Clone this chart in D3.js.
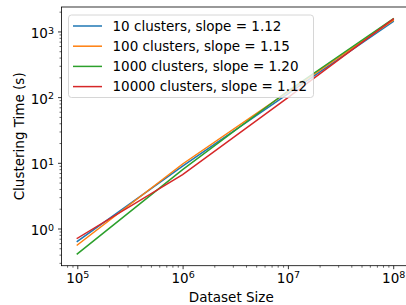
<!DOCTYPE html>
<html>
<head>
<meta charset="utf-8">
<script src="https://cdn.jsdelivr.net/npm/d3@7"></script>
<style>
    body { margin: 0; background: #fff; }
    svg { display: block; font-family: "DejaVu Sans", sans-serif; }
</style>
</head>
<body>
<svg id="chart" width="406" height="305"></svg>
<script>
// dataset sizes (x) and clustering times in seconds (y)
const datasetSizes = [1e5, 1e6, 1e7, 1e8];
const seriesNames = [
    '10 clusters, slope = 1.12',
    '100 clusters, slope = 1.15',
    '1000 clusters, slope = 1.20',
    '10000 clusters, slope = 1.12'
];
const times10 = [0.635, 8.9, 112, 1413];
const times100 = [0.56, 9.6, 120, 1475];
const times1000 = [0.41, 7.9, 124, 1560];
const times10000 = [0.71, 6.6, 98, 1540];
const xTickValues = [1e5, 1e6, 1e7, 1e8];
const yTickValues = [1e0, 1e1, 1e2, 1e3];

const colors = ['#1f77b4', '#ff7f0e', '#2ca02c', '#d62728'];
const series = [times10, times100, times1000, times10000].map((values, i) => ({
    name: seriesNames[i],
    color: colors[i],
    points: values.map((v, j) => ({ x: datasetSizes[j], y: v }))
}));

const svg = d3.select('#chart');
const plot = { left: 61.5, right: 409, top: 7, bottom: 265.7 };

// matplotlib-style 5% margins in log space
function paddedLogDomain(values) {
    const lo = Math.log10(d3.min(values));
    const hi = Math.log10(d3.max(values));
    const pad = (hi - lo) * 0.05;
    return [Math.pow(10, lo - pad), Math.pow(10, hi + pad)];
}

const x = d3.scaleLog()
    .domain(paddedLogDomain(datasetSizes))
    .range([plot.left, plot.right]);
const y = d3.scaleLog()
    .domain(paddedLogDomain(series.flatMap(s => s.points.map(p => p.y))))
    .range([plot.bottom, plot.top]);

// minor ticks: 2..9 in each decade inside the domain
function minorTicks(scale) {
    const [d0, d1] = scale.domain();
    const out = [];
    for (let e = Math.floor(Math.log10(d0)); e <= Math.ceil(Math.log10(d1)); e++) {
        for (let m = 2; m <= 9; m++) {
            const v = m * Math.pow(10, e);
            if (v >= d0 && v <= d1) out.push(v);
        }
    }
    return out;
}

const powerLabel = function (sel) {
    sel.each(function (d) {
        const t = d3.select(this);
        t.text(null);
        t.append('tspan').text('10');
        t.append('tspan')
            .attr('dy', '-0.45em')
            .attr('font-size', '9.5px')
            .text(Math.round(Math.log10(d)));
    });
};

// x axis
const xAxis = svg.append('g').attr('transform', `translate(0,${plot.bottom})`);
xAxis.call(d3.axisBottom(x).tickValues(minorTicks(x)).tickSize(2).tickFormat(''))
    .call(g => g.select('.domain').remove())
    .call(g => g.selectAll('line').attr('stroke', '#000').attr('stroke-width', 0.6));
const xMajor = svg.append('g').attr('transform', `translate(0,${plot.bottom})`)
    .call(d3.axisBottom(x).tickValues(xTickValues).tickSize(3.5).tickPadding(4));
xMajor.select('.domain').remove();
xMajor.selectAll('line').attr('stroke', '#000').attr('stroke-width', 0.8);
xMajor.selectAll('text')
    .attr('font-size', '13.5px')
    .attr('fill', '#000')
    .attr('font-family', '"DejaVu Sans", sans-serif')
    .call(powerLabel);

// y axis
const yAxis = svg.append('g').attr('transform', `translate(${plot.left},0)`);
yAxis.call(d3.axisLeft(y).tickValues(minorTicks(y)).tickSize(2).tickFormat(''))
    .call(g => g.select('.domain').remove())
    .call(g => g.selectAll('line').attr('stroke', '#000').attr('stroke-width', 0.6));
const yMajor = svg.append('g').attr('transform', `translate(${plot.left},0)`)
    .call(d3.axisLeft(y).tickValues(yTickValues).tickSize(3.5).tickPadding(4));
yMajor.select('.domain').remove();
yMajor.selectAll('line').attr('stroke', '#000').attr('stroke-width', 0.8);
yMajor.selectAll('text')
    .attr('font-size', '13.5px')
    .attr('fill', '#000')
    .attr('font-family', '"DejaVu Sans", sans-serif')
    .attr('dy', '0.45em')
    .call(powerLabel);

// lines
const line = d3.line().x(d => x(d.x)).y(d => y(d.y));
svg.append('g').selectAll('path')
    .data(series)
    .join('path')
    .attr('d', s => line(s.points))
    .attr('fill', 'none')
    .attr('stroke', s => s.color)
    .attr('stroke-width', 1.5)
    .attr('stroke-linecap', 'square');

// spines
svg.append('rect')
    .attr('x', plot.left).attr('y', plot.top)
    .attr('width', plot.right - plot.left)
    .attr('height', plot.bottom - plot.top)
    .attr('fill', 'none')
    .attr('stroke', '#000')
    .attr('stroke-width', 0.8);

// axis labels
svg.append('text')
    .attr('x', (plot.left + plot.right) / 2 - 4)
    .attr('y', 302)
    .attr('text-anchor', 'middle')
    .attr('font-size', '13.5px')
    .text('Dataset Size');
svg.append('text')
    .attr('transform', `translate(24,${(plot.top + plot.bottom) / 2}) rotate(-90)`)
    .attr('text-anchor', 'middle')
    .attr('font-size', '13.5px')
    .text('Clustering Time (s)');

// legend
const legend = svg.append('g').attr('transform', 'translate(68.5,15)');
legend.append('rect')
    .attr('width', 245).attr('height', 82.5)
    .attr('rx', 3)
    .attr('fill', 'rgba(255,255,255,0.8)')
    .attr('stroke', '#cccccc')
    .attr('stroke-width', 0.8);
const rows = legend.selectAll('g.row')
    .data(series)
    .join('g')
    .attr('class', 'row')
    .attr('transform', (d, i) => `translate(0,${11 + i * 20.2})`);
rows.append('line')
    .attr('x1', 4.5).attr('x2', 33.5)
    .attr('stroke', d => d.color)
    .attr('stroke-width', 1.5);
rows.append('text')
    .attr('x', 44)
    .attr('dy', '0.36em')
    .attr('font-size', '13.5px')
    .text(d => d.name);
</script>
</body>
</html>
